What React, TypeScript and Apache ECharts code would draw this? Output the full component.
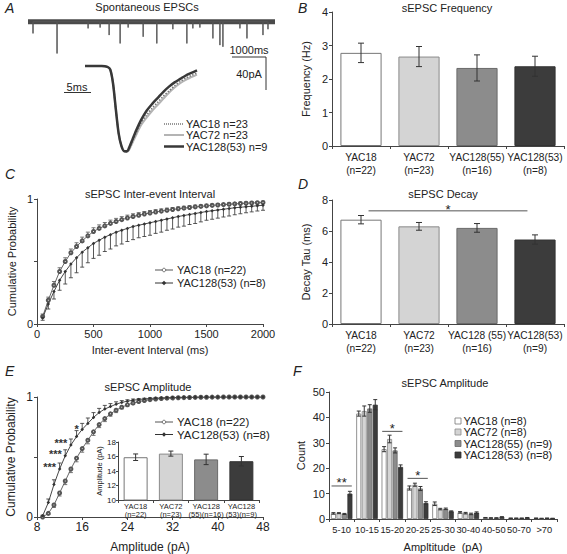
import React, { useEffect, useRef } from "react";
import * as echarts from "echarts";

const FONT = "Liberation Sans, Arial, sans-serif";
const TXT = "#222";
const AX = "#444";

// ---------- Panel A ----------
const spikeTimes = [150, 870, 1800, 2160, 2430, 2760, 3000, 3450, 3860, 4340, 4760, 4940, 5150, 5540, 5750, 5840, 6350, 6560, 7040, 7190];
const spikeAmps = [14, 38, 8, 7, 16, 26, 7, 18, 26, 9, 26, 8, 7, 20, 28, 30, 8, 20, 16, 9];
const avgTimes = [0, 1, 2, 3, 4, 4.5, 5, 5.5, 6, 6.5, 7, 7.5, 8, 8.5, 9, 10, 11, 12, 13, 14, 15, 16, 17, 18, 19, 20];
const avgYac128 = [0, 0, 0, 0, -0.01, -0.04, -0.2, -0.5, -0.78, -0.93, -0.99, -0.99, -0.93, -0.85, -0.77, -0.63, -0.52, -0.44, -0.37, -0.3, -0.24, -0.19, -0.15, -0.11, -0.08, -0.05];
const avgYac72 = [0, 0, 0, 0, -0.01, -0.04, -0.2, -0.5, -0.78, -0.93, -0.99, -1.0, -0.96, -0.89, -0.82, -0.69, -0.6, -0.52, -0.45, -0.38, -0.31, -0.25, -0.2, -0.16, -0.13, -0.1];
const avgYac18 = [0, 0, 0, 0, -0.01, -0.04, -0.2, -0.5, -0.78, -0.93, -0.99, -1.0, -0.95, -0.87, -0.8, -0.66, -0.57, -0.49, -0.42, -0.35, -0.29, -0.23, -0.18, -0.14, -0.11, -0.08];

// ---------- Panel B ----------
const freqCats = ["YAC18\n(n=22)", "YAC72\n(n=23)", "YAC128(55)\n(n=16)", "YAC128(53)\n(n=8)"];
const freqMean = [2.78, 2.67, 2.33, 2.38];
const freqErr = [0.29, 0.3, 0.39, 0.3];

// ---------- Panel C ----------
const iviX = [50, 100, 150, 200, 250, 300, 350, 400, 450, 500, 550, 600, 650, 700, 750, 800, 850, 900, 950, 1000, 1050, 1100, 1150, 1200, 1250, 1300, 1350, 1400, 1450, 1500, 1550, 1600, 1650, 1700, 1750, 1800, 1850, 1900, 1950, 2000];
const iviYac18 = [0.06, 0.19, 0.31, 0.42, 0.5, 0.57, 0.62, 0.665, 0.705, 0.74, 0.765, 0.785, 0.805, 0.82, 0.835, 0.848, 0.86, 0.87, 0.88, 0.888, 0.896, 0.903, 0.91, 0.916, 0.922, 0.927, 0.932, 0.937, 0.941, 0.945, 0.949, 0.952, 0.955, 0.958, 0.961, 0.964, 0.966, 0.968, 0.97, 0.972];
const iviYac18Err = [0.02, 0.025, 0.03, 0.03, 0.03, 0.03, 0.03, 0.03, 0.03, 0.03, 0.028, 0.027, 0.026, 0.025, 0.024, 0.023, 0.022, 0.021, 0.02, 0.02, 0.019, 0.018, 0.017, 0.016, 0.015, 0.015, 0.014, 0.014, 0.013, 0.013, 0.012, 0.012, 0.011, 0.011, 0.01, 0.01, 0.01, 0.01, 0.01, 0.01];
const iviYac128 = [0.05, 0.16, 0.26, 0.35, 0.42, 0.48, 0.53, 0.575, 0.61, 0.645, 0.67, 0.695, 0.715, 0.735, 0.75, 0.765, 0.78, 0.79, 0.8, 0.81, 0.82, 0.83, 0.84, 0.85, 0.86, 0.868, 0.876, 0.884, 0.892, 0.9, 0.906, 0.912, 0.918, 0.924, 0.93, 0.934, 0.938, 0.942, 0.946, 0.95];
const iviYac128Err = [0.02, 0.04, 0.06, 0.08, 0.1, 0.11, 0.12, 0.12, 0.12, 0.12, 0.12, 0.115, 0.115, 0.11, 0.11, 0.105, 0.105, 0.1, 0.1, 0.1, 0.095, 0.095, 0.09, 0.09, 0.085, 0.085, 0.08, 0.08, 0.075, 0.07, 0.068, 0.065, 0.062, 0.06, 0.056, 0.052, 0.048, 0.045, 0.042, 0.04];

// ---------- Panel D ----------
const decayCats = ["YAC18\n(n=22)", "YAC72\n(n=23)", "YAC128 (55)\n(n=16)", "YAC128(53)\n(n=9)"];
const decayMean = [6.73, 6.3, 6.2, 5.45];
const decayErr = [0.27, 0.25, 0.28, 0.3];
const decaySig = [[0, 3, 7.3]];

// ---------- Panel E ----------
const ampX = [9, 10, 11, 12, 13, 14, 15, 16, 17, 18, 19, 20, 21, 22, 23, 24, 25, 26, 27, 28, 29, 30, 31, 32, 33, 34, 35, 36, 37, 38, 39, 40, 41, 42, 43, 44, 45, 46, 47, 48];
const ampYac128 = [0.01, 0.12, 0.27, 0.4, 0.51, 0.6, 0.67, 0.73, 0.78, 0.83, 0.87, 0.9, 0.92, 0.94, 0.955, 0.965, 0.973, 0.979, 0.984, 0.988, 0.99, 0.992, 0.994, 0.995, 0.996, 0.997, 0.998, 0.998, 0.999, 0.999, 1, 1, 1, 1, 1, 1, 1, 1, 1, 1];
const ampYac128Err = [0.005, 0.03, 0.04, 0.05, 0.05, 0.05, 0.05, 0.05, 0.045, 0.04, 0.035, 0.03, 0.025, 0.02, 0.015, 0.012, 0.01, 0.008, 0.006, 0.005, 0.004, 0.004, 0.003, 0.003, 0.003, 0.002, 0.002, 0.002, 0.002, 0.002, 0, 0, 0, 0, 0, 0, 0, 0, 0, 0];
const ampYac18 = [0, 0.03, 0.1, 0.2, 0.3, 0.4, 0.49, 0.57, 0.64, 0.71, 0.77, 0.82, 0.86, 0.89, 0.915, 0.935, 0.95, 0.962, 0.971, 0.978, 0.983, 0.987, 0.99, 0.992, 0.994, 0.995, 0.996, 0.997, 0.998, 0.998, 0.999, 0.999, 1, 1, 1, 1, 1, 1, 1, 1];
const ampYac18Err = [0, 0.01, 0.02, 0.025, 0.03, 0.03, 0.03, 0.03, 0.03, 0.03, 0.025, 0.025, 0.02, 0.02, 0.015, 0.012, 0.01, 0.008, 0.006, 0.005, 0.004, 0.004, 0.003, 0.003, 0.002, 0.002, 0.002, 0.002, 0.002, 0.002, 0, 0, 0, 0, 0, 0, 0, 0, 0, 0];
const ampStarX = [12, 13, 14, 15];
const ampStarY = [0.4, 0.51, 0.6, 0.67];
const ampStarLabel = ["***", "***", "***", "*"];
const insetCats = ["YAC18\n(n=22)", "YAC72\n(n=23)", "YAC128\n(55)(n=16)", "YAC128\n(53)(n=9)"];
const insetMean = [15.9, 16.4, 15.6, 15.35];
const insetErr = [0.45, 0.35, 0.72, 0.65];

// ---------- Panel F ----------
const binCats = ["5-10", "10-15", "15-20", "20-25", "25-30", "30-40", "40-50", "50-70", ">70"];
const fYac18 = [2.2, 41.5, 27.5, 12.2, 6.0, 2.6, 0.5, 0.3, 0.3];
const fYac18Err = [0.3, 1.0, 1.0, 0.8, 0.7, 0.3, 0.1, 0.1, 0.1];
const fYac72 = [2.3, 42.5, 31.5, 13.5, 3.9, 2.3, 0.4, 0.3, 0.2];
const fYac72Err = [0.2, 2.0, 1.5, 0.6, 0.3, 0.3, 0.1, 0.1, 0.1];
const fYac128_55 = [2.0, 43.5, 27.0, 12.0, 4.0, 2.0, 0.4, 0.3, 0.3];
const fYac128_55Err = [0.2, 1.5, 1.0, 0.8, 0.3, 0.3, 0.1, 0.1, 0.1];
const fYac128_53 = [10.0, 45.0, 20.5, 6.3, 3.0, 2.5, 0.8, 0.5, 0.2];
const fYac128_53Err = [0.9, 2.0, 0.8, 0.5, 0.2, 0.3, 0.1, 0.1, 0.1];
const fSig = [[0, 13], [2, 34.5], [3, 16]];
const fSigLabel = ["**", "*", "*"];

const groupNames = ["YAC18", "YAC72", "YAC128(55)", "YAC128(53)"];
const fLegendN = ["(n=8)", "(n=8)", "(n=9)", "(n=8)"];
const barColors = ["#ffffff", "#d4d4d4", "#8c8c8c", "#3c3c3c"];
const barBorders = ["#777777", "#8a8a8a", "#6a6a6a", "#333333"];

const txt = (x: number, y: number, text: string, o: any = {}) => ({
  type: "text",
  x,
  y,
  style: { text, fontSize: 11, fontFamily: FONT, fill: TXT, textAlign: o.align || "left", textVerticalAlign: "middle", fontStyle: o.italic ? "italic" : "normal", fontWeight: "normal", ...(o.style || {}) },
});
const ln = (x1: number, y1: number, x2: number, y2: number, stroke = "#333", lineWidth = 1, extra: any = {}) => ({
  type: "line",
  shape: { x1, y1, x2, y2 },
  style: { stroke, lineWidth, ...extra },
});

function errBarRender(offset: number, cap: number, color = "#333") {
  return (params: any, api: any) => {
    const x = api.value(0);
    const m = api.value(1);
    const e = api.value(2);
    const t = api.coord([x, m + e]);
    const b = api.coord([x, m - e]);
    const cx = t[0] + offset;
    const st = { stroke: color, lineWidth: 1 };
    return {
      type: "group",
      children: [
        { type: "line", shape: { x1: cx, y1: t[1], x2: cx, y2: b[1] }, style: st },
        { type: "line", shape: { x1: cx - cap, y1: t[1], x2: cx + cap, y2: t[1] }, style: st },
        { type: "line", shape: { x1: cx - cap, y1: b[1], x2: cx + cap, y2: b[1] }, style: st },
      ],
    };
  };
}

function cumErrRender(dir: number, color: string) {
  return (params: any, api: any) => {
    const x = api.value(0);
    const y = api.value(1);
    const e = api.value(2);
    const p0 = api.coord([x, y]);
    const p1 = api.coord([x, y + dir * e]);
    const st = { stroke: color, lineWidth: 0.9 };
    return {
      type: "group",
      children: [
        { type: "line", shape: { x1: p0[0], y1: p0[1], x2: p1[0], y2: p1[1] }, style: st },
        { type: "line", shape: { x1: p1[0] - 2, y1: p1[1], x2: p1[0] + 2, y2: p1[1] }, style: st },
      ],
    };
  };
}

const nameStyle = (fs = 11) => ({ fontSize: fs, color: TXT, fontFamily: FONT, fontWeight: "normal" });
const axisLabel = (fs = 11, extra: any = {}) => ({ fontSize: fs, color: TXT, fontFamily: FONT, fontWeight: "normal", margin: 4, ...extra });
const axisLine = { show: true, lineStyle: { color: AX, width: 1 } };
const axisTick = { show: true, length: 3, lineStyle: { color: AX } };
const plain = (v: number) => String(v);

function valueAxis(gridIndex: number, min: number, max: number, interval: number, extra: any = {}) {
  return {
    type: "value", gridIndex, min, max, interval,
    axisLine, axisTick, splitLine: { show: false },
    axisLabel: axisLabel(11, { formatter: plain }), nameTextStyle: nameStyle(11),
    ...extra,
  };
}
function catAxis(gridIndex: number, data: string[], fs = 10.2, lh = 13, extra: any = {}) {
  return {
    type: "category", gridIndex, data,
    axisLine, axisTick: { show: true, length: 3, lineStyle: { color: AX } },
    axisLabel: axisLabel(fs, { lineHeight: lh, interval: 0, margin: 5 }),
    ...extra,
  };
}
const hiddenAxis = (type: string, gridIndex: number, min: number, max: number) => ({ type, gridIndex, min, max, show: false });

function buildOption() {
  const spikeData: number[][] = [];
  spikeTimes.forEach((t, i) => {
    spikeData.push([t, 0], [t, -spikeAmps[i]], [t, 0]);
  });

  const coloredBars = (vals: number[]) =>
    vals.map((v, i) => ({ value: v, itemStyle: { color: barColors[i], borderColor: barBorders[i], borderWidth: 1 } }));

  const fSeries = [fYac18, fYac72, fYac128_55, fYac128_53];
  const fErrs = [fYac18Err, fYac72Err, fYac128_55Err, fYac128_53Err];
  const fOffsets = [-8.25, -2.75, 2.75, 8.25];

  const series: any[] = [
    // Panel A
    { type: "line", xAxisIndex: 0, yAxisIndex: 0, data: [[0, 0], [7400, 0]], showSymbol: false, lineStyle: { color: "#4a4a4a", width: 5 }, silent: true },
    { type: "line", xAxisIndex: 0, yAxisIndex: 0, data: spikeData, showSymbol: false, lineStyle: { color: "#555", width: 1 }, silent: true },
    { type: "line", xAxisIndex: 1, yAxisIndex: 1, data: avgTimes.map((t, i) => [t, avgYac72[i]]), showSymbol: false, smooth: 0.3, lineStyle: { color: "#b4b4b4", width: 2 } },
    { type: "line", xAxisIndex: 1, yAxisIndex: 1, data: avgTimes.map((t, i) => [t, avgYac18[i]]), showSymbol: false, smooth: 0.3, lineStyle: { color: "#777", width: 1.5, type: "dotted" } },
    { type: "line", xAxisIndex: 1, yAxisIndex: 1, data: avgTimes.map((t, i) => [t, avgYac128[i]]), showSymbol: false, smooth: 0.3, lineStyle: { color: "#383838", width: 2.5 } },
    // Panel B
    { type: "bar", xAxisIndex: 2, yAxisIndex: 2, data: coloredBars(freqMean), barCategoryGap: "29%" },
    { type: "custom", xAxisIndex: 2, yAxisIndex: 2, data: freqMean.map((m, i) => [i, m, freqErr[i]]), renderItem: errBarRender(0, 3), z: 5, silent: true },
    // Panel C
    { type: "line", xAxisIndex: 3, yAxisIndex: 3, data: iviX.map((x, i) => [x, iviYac18[i]]), symbol: "emptyCircle", symbolSize: 3, lineStyle: { color: "#555", width: 0.9 }, itemStyle: { color: "#555", borderWidth: 0.7 }, z: 3 },
    { type: "custom", xAxisIndex: 3, yAxisIndex: 3, data: iviX.map((x, i) => [x, iviYac18[i], iviYac18Err[i]]), renderItem: cumErrRender(1, "#666"), z: 2, silent: true },
    { type: "line", xAxisIndex: 3, yAxisIndex: 3, data: iviX.map((x, i) => [x, iviYac128[i]]), symbol: "diamond", symbolSize: 3.5, lineStyle: { color: "#333", width: 0.9 }, itemStyle: { color: "#333" }, z: 3 },
    { type: "custom", xAxisIndex: 3, yAxisIndex: 3, data: iviX.map((x, i) => [x, iviYac128[i], iviYac128Err[i]]), renderItem: cumErrRender(-1, "#444"), z: 2, silent: true },
    // Panel D
    { type: "bar", xAxisIndex: 4, yAxisIndex: 4, data: coloredBars(decayMean), barCategoryGap: "29%" },
    { type: "custom", xAxisIndex: 4, yAxisIndex: 4, data: decayMean.map((m, i) => [i, m, decayErr[i]]), renderItem: errBarRender(0, 3), z: 5, silent: true },
    {
      type: "custom", xAxisIndex: 4, yAxisIndex: 4, data: decaySig, silent: true, z: 5,
      renderItem: (params: any, api: any) => {
        const p0 = api.coord([api.value(0), api.value(2)]);
        const p1 = api.coord([api.value(1), api.value(2)]);
        const w = api.size([1, 0])[0];
        const xa = p0[0] + w * 0.13;
        const xb = p1[0] - w * 0.13;
        return {
          type: "group",
          children: [
            { type: "line", shape: { x1: xa, y1: p0[1], x2: xb, y2: p0[1] }, style: { stroke: "#555", lineWidth: 1 } },
            { type: "text", x: (xa + xb) / 2, y: p0[1] - 1, style: { text: "*", fontSize: 13, fontFamily: FONT, fill: TXT, textAlign: "center", textVerticalAlign: "middle" } },
          ],
        };
      },
    },
    // Panel E
    { type: "line", xAxisIndex: 5, yAxisIndex: 5, data: ampX.map((x, i) => [x, ampYac18[i]]), symbol: "emptyCircle", symbolSize: 3, lineStyle: { color: "#555", width: 0.9 }, itemStyle: { color: "#555", borderWidth: 0.7 }, z: 3 },
    { type: "custom", xAxisIndex: 5, yAxisIndex: 5, data: ampX.map((x, i) => [x, ampYac18[i], ampYac18Err[i]]), renderItem: cumErrRender(-1, "#666"), z: 2, silent: true },
    { type: "line", xAxisIndex: 5, yAxisIndex: 5, data: ampX.map((x, i) => [x, ampYac128[i]]), symbol: "diamond", symbolSize: 3.5, lineStyle: { color: "#333", width: 0.9 }, itemStyle: { color: "#333" }, z: 3 },
    { type: "custom", xAxisIndex: 5, yAxisIndex: 5, data: ampX.map((x, i) => [x, ampYac128[i], ampYac128Err[i]]), renderItem: cumErrRender(1, "#444"), z: 2, silent: true },
    {
      type: "scatter", xAxisIndex: 5, yAxisIndex: 5, silent: true, z: 6,
      symbolSize: 1, itemStyle: { color: "rgba(0,0,0,0)" },
      data: ampStarX.map((x, i) => ({
        value: [x, ampStarY[i]],
        label: ampStarLabel[i].length === 1
          ? { position: "top", distance: 2 }
          : { position: "left", distance: 3, offset: [0, -2] },
      })),
      label: {
        show: true, color: "#333", fontSize: 11, fontWeight: "bold", fontFamily: FONT, opacity: 1,
        formatter: (p: any) => ampStarLabel[p.dataIndex],
      },
    },
    // Inset
    { type: "bar", xAxisIndex: 6, yAxisIndex: 6, data: coloredBars(insetMean), barCategoryGap: "32%", z: 4 },
    { type: "custom", xAxisIndex: 6, yAxisIndex: 6, data: insetMean.map((m, i) => [i, m, insetErr[i]]), renderItem: errBarRender(0, 2.5), z: 6, silent: true },
  ];

  // Panel F
  fSeries.forEach((vals, si) => {
    series.push({
      type: "bar", xAxisIndex: 7, yAxisIndex: 7, name: groupNames[si], data: vals, barWidth: 5, barGap: "10%",
      itemStyle: { color: barColors[si], borderColor: barBorders[si], borderWidth: 0.8 },
    });
  });
  fSeries.forEach((vals, si) => {
    series.push({
      type: "custom", xAxisIndex: 7, yAxisIndex: 7, data: vals.map((m, i) => [i, m, fErrs[si][i]]),
      renderItem: errBarRender(fOffsets[si], 2), z: 5, silent: true,
    });
  });
  series.push({
    type: "custom", xAxisIndex: 7, yAxisIndex: 7, data: fSig, silent: true, z: 5,
    renderItem: (params: any, api: any) => {
      const p = api.coord([api.value(0), api.value(1)]);
      const w = api.size([1, 0])[0];
      return {
        type: "group",
        children: [
          { type: "line", shape: { x1: p[0] - w * 0.4, y1: p[1], x2: p[0] + w * 0.4, y2: p[1] }, style: { stroke: "#555", lineWidth: 1 } },
          { type: "text", x: p[0], y: p[1] - 3, style: { text: fSigLabel[params.dataIndex], fontSize: 13, fontFamily: FONT, fill: TXT, textAlign: "center", textVerticalAlign: "middle" } },
        ],
      };
    },
  });

  const probFmt = (v: number) => (v === 0 ? "0" : v === 1 ? "1" : "");

  const graphic: any[] = [
    // Panel A texts
    txt(5, 8, "A", { italic: true, style: { fontSize: 14 } }),
    txt(147, 7, "Spontaneous EPSCs", { align: "center" }),
    ln(232, 57, 266, 57), ln(266, 57, 266, 90),
    txt(249, 50, "1000ms", { align: "center" }),
    txt(249, 74, "40pA", { align: "center" }),
    ln(64, 92.5, 91, 92.5),
    txt(77, 87, "5ms", { align: "center" }),
    ln(164, 124, 184, 124, "#777", 1.5, { lineDash: [1, 1] }),
    ln(164, 135, 184, 135, "#b4b4b4", 2),
    ln(164, 146.5, 184, 146.5, "#383838", 2.5),
    txt(186, 124, "YAC18 n=23"),
    txt(186, 135, "YAC72 n=23"),
    txt(186, 146.5, "YAC128(53) n=9"),
    // Panel B
    txt(298, 8, "B", { italic: true, style: { fontSize: 14 } }),
    txt(447, 8, "sEPSC Frequency", { align: "center" }),
    // Panel C
    txt(5, 174, "C", { italic: true, style: { fontSize: 14 } }),
    txt(150, 194, "sEPSC Inter-event Interval", { align: "center" }),
    ln(155, 270, 173, 270, "#555"),
    { type: "circle", shape: { cx: 164, cy: 270, r: 1.8 }, style: { fill: "#fff", stroke: "#555", lineWidth: 0.8 } },
    txt(177, 270, "YAC18 (n=22)"),
    ln(155, 283, 173, 283, "#333"),
    { type: "polygon", shape: { points: [[164, 280.8], [166.2, 283], [164, 285.2], [161.8, 283]] }, style: { fill: "#333" } },
    txt(177, 283, "YAC128(53) (n=8)"),
    // Panel D
    txt(298, 184, "D", { italic: true, style: { fontSize: 14 } }),
    txt(443, 194, "sEPSC Decay", { align: "center" }),
    // Panel E
    txt(5, 371, "E", { italic: true, style: { fontSize: 14 } }),
    txt(148, 387, "sEPSC Amplitude", { align: "center" }),
    ln(155, 422, 173, 422, "#555"),
    { type: "circle", shape: { cx: 164, cy: 422, r: 1.8 }, style: { fill: "#fff", stroke: "#555", lineWidth: 0.8 } },
    txt(177, 422, "YAC18 (n=22)", { style: { fontSize: 11.5 } }),
    ln(155, 434.5, 173, 434.5, "#333"),
    { type: "polygon", shape: { points: [[164, 432.3], [166.2, 434.5], [164, 436.7], [161.8, 434.5]] }, style: { fill: "#333" } },
    txt(177, 434.5, "YAC128(53) (n=8)", { style: { fontSize: 11.5 } }),
    // Panel F
    txt(293, 371, "F", { italic: true, style: { fontSize: 14 } }),
    txt(445, 383, "sEPSC Amplitude", { align: "center" }),
  ];
  const fLegendY = [421, 432, 443.5, 455];
  groupNames.forEach((g, i) => {
    graphic.push({ type: "rect", shape: { x: 455, y: fLegendY[i] - 3, width: 6, height: 6 }, style: { fill: barColors[i], stroke: barBorders[i], lineWidth: 0.8 } });
    graphic.push(txt(463.5, fLegendY[i], g + " " + fLegendN[i], { style: { fontSize: 11 } }));
  });

  return {
    animation: false,
    backgroundColor: "#ffffff",
    textStyle: { fontFamily: FONT },
    grid: [
      { left: 28, top: 15, width: 247, height: 82 },
      { left: 85, top: 60, width: 112, height: 92 },
      { left: 332, top: 12, width: 232, height: 134 },
      { left: 37, top: 199, width: 226, height: 125 },
      { left: 332, top: 200, width: 232, height: 124 },
      { left: 37, top: 397, width: 226, height: 124 },
      { left: 118, top: 442, width: 141, height: 58 },
      { left: 329, top: 392, width: 228, height: 127 },
    ],
    xAxis: [
      hiddenAxis("value", 0, 0, 7400),
      hiddenAxis("value", 1, 0, 20),
      catAxis(2, freqCats),
      valueAxis(3, 0, 2000, 500, { name: "Inter-event Interval (ms)", nameLocation: "middle", nameGap: 20 }),
      catAxis(4, decayCats),
      valueAxis(5, 8, 48, 8, { name: "Amplitude (pA)", nameLocation: "middle", nameGap: 24, nameTextStyle: nameStyle(12), axisLabel: axisLabel(12, { formatter: plain }) }),
      catAxis(6, insetCats, 7.5, 8, { axisLabel: axisLabel(7.5, { lineHeight: 8, interval: 0, margin: 2 }) }),
      catAxis(7, binCats, 9.3, 12, { name: "Ampltitude  (pA)", nameLocation: "middle", nameGap: 22, nameTextStyle: nameStyle(11) }),
    ],
    yAxis: [
      hiddenAxis("value", 0, -90, 8),
      hiddenAxis("value", 1, -1, 0.07),
      valueAxis(2, 0, 4, 1, { name: "Frequency (Hz)", nameLocation: "middle", nameGap: 21 }),
      valueAxis(3, 0, 1, 0.5, { name: "Cumulative Probability", nameLocation: "middle", nameGap: 20, axisLabel: axisLabel(11, { formatter: probFmt }) }),
      valueAxis(4, 0, 8, 2, { name: "Decay Tau (ms)", nameLocation: "middle", nameGap: 21 }),
      valueAxis(5, 0, 1, 0.5, { name: "Cumulative Probability", nameLocation: "middle", nameGap: 20, nameTextStyle: nameStyle(12), axisLabel: axisLabel(12, { formatter: probFmt }) }),
      valueAxis(6, 10, 18, 2, { name: "Amplitude (pA)", nameLocation: "middle", nameGap: 13, nameTextStyle: nameStyle(7.5), axisLabel: axisLabel(8, { margin: 2, formatter: plain }), axisTick: { show: true, length: 2, lineStyle: { color: AX } } }),
      valueAxis(7, 0, 50, 10, { name: "Count", nameLocation: "middle", nameGap: 23 }),
    ],
    series,
    graphic,
  };
}

export default function App() {
  const ref = useRef<HTMLDivElement>(null);
  useEffect(() => {
    document.body.style.margin = "0";
    if (!ref.current) return;
    const chart = echarts.init(ref.current, undefined, { renderer: "svg" });
    chart.setOption(buildOption() as any);
    return () => chart.dispose();
  }, []);
  return <div ref={ref} style={{ width: 567, height: 554 }} />;
}
